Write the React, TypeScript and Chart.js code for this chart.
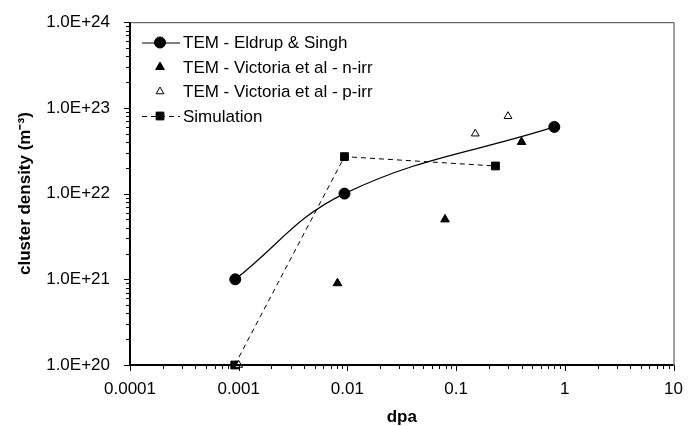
import React, { useEffect, useRef } from "react";
import { Chart, registerables } from "chart.js";
import { drawPoint } from "chart.js/helpers";

Chart.register(...registerables);

// ---- Data ----
const xEldrup = [0.00093, 0.0094, 0.8];
const yEldrup = [1e21, 1e22, 6e22];

const xNirr = [0.0081, 0.079, 0.4];
const yNirr = [9e20, 5e21, 4e22];

const xPirr = [0.001, 0.15, 0.3];
const yPirr = [1e20, 5e22, 8e22];

const xSim = [0.00092, 0.0094, 0.23];
const ySim = [1e20, 2.7e22, 2.1e22];

const xTickValues = [0.0001, 0.001, 0.01, 0.1, 1, 10];
const xTickLabels = ["0.0001", "0.001", "0.01", "0.1", "1", "10"];
const yTickValues = [1e20, 1e21, 1e22, 1e23, 1e24];
const yTickLabels = ["1.0E+20", "1.0E+21", "1.0E+22", "1.0E+23", "1.0E+24"];

const seriesNames = [
  "TEM - Eldrup & Singh",
  "TEM - Victoria et al - n-irr",
  "TEM - Victoria et al - p-irr",
  "Simulation",
];

const FONT = "'Liberation Sans', Arial, Helvetica, sans-serif";

const toPts = (xs: number[], ys: number[]) => xs.map((x, i) => ({ x, y: ys[i] }));

const framePlugin = {
  id: "frameTicksLegend",
  afterDraw(chart: any) {
    const { ctx, chartArea } = chart;
    const { left, right, top, bottom } = chartArea;
    const xs = chart.scales.x;
    const ys = chart.scales.y;
    ctx.save();
    // top/right frame
    ctx.strokeStyle = "#444";
    ctx.lineWidth = 1;
    ctx.beginPath();
    ctx.moveTo(left, top + 0.5);
    ctx.lineTo(right + 0.5, top + 0.5);
    ctx.lineTo(right + 0.5, bottom);
    ctx.stroke();
    // axes
    ctx.strokeStyle = "#000";
    ctx.lineWidth = 2;
    ctx.beginPath();
    ctx.moveTo(left, top);
    ctx.lineTo(left, bottom);
    ctx.lineTo(right, bottom);
    ctx.stroke();
    // ticks
    ctx.lineWidth = 1;
    ctx.beginPath();
    const xe0 = Math.round(Math.log10(xs.min));
    const xe1 = Math.round(Math.log10(xs.max));
    for (let e = xe0; e <= xe1; e++) {
      for (let m = 1; m <= 9; m++) {
        const v = m * Math.pow(10, e);
        if (v > xs.max * 1.0001) break;
        const p = Math.round(xs.getPixelForValue(v)) + 0.5;
        const len = m === 1 ? 6 : 4;
        ctx.moveTo(p, bottom);
        ctx.lineTo(p, bottom + len);
      }
    }
    const ye0 = Math.round(Math.log10(ys.min));
    const ye1 = Math.round(Math.log10(ys.max));
    for (let e = ye0; e <= ye1; e++) {
      for (let m = 1; m <= 9; m++) {
        const v = m * Math.pow(10, e);
        if (v > ys.max * 1.0001) break;
        const p = Math.round(ys.getPixelForValue(v)) + 0.5;
        const len = m === 1 ? 6 : 4;
        ctx.moveTo(left, p);
        ctx.lineTo(left - len, p);
      }
    }
    ctx.stroke();

    // legend
    const lx0 = left + 12;
    const lx1 = left + 50;
    const mx = left + 30;
    const tx = left + 53;
    const rowY = [42.5, 67, 91.5, 116];
    ctx.font = `17px ${FONT}`;
    ctx.textBaseline = "middle";
    ctx.textAlign = "left";
    chart.data.datasets.forEach((ds: any, i: number) => {
      const y = rowY[i];
      if (ds.showLine !== false) {
        ctx.save();
        ctx.strokeStyle = "#000";
        ctx.lineWidth = 1;
        ctx.setLineDash(ds.borderDash || []);
        ctx.beginPath();
        ctx.moveTo(lx0, y + 0.5);
        ctx.lineTo(lx1, y + 0.5);
        ctx.stroke();
        ctx.restore();
      }
      ctx.save();
      ctx.fillStyle = ds.pointBackgroundColor;
      ctx.strokeStyle = ds.pointBorderColor;
      ctx.lineWidth = ds.pointBorderWidth;
      drawPoint(ctx, { pointStyle: ds.pointStyle, radius: ds.pointRadius, rotation: 0, borderWidth: ds.pointBorderWidth }, mx, y);
      ctx.restore();
      ctx.fillStyle = "#000";
      ctx.fillText(ds.label, tx, y + 1);
    });
    ctx.restore();
  },
};

export default function App() {
  const ref = useRef<HTMLCanvasElement | null>(null);
  useEffect(() => {
    if (!ref.current) return;
    const chart = new Chart(ref.current, {
      type: "scatter",
      data: {
        datasets: [
          {
            label: seriesNames[0],
            data: toPts(xEldrup, yEldrup),
            showLine: true,
            borderColor: "#000",
            borderWidth: 1.2,
            tension: 0.4,
            pointStyle: "circle",
            pointRadius: 5.5,
            pointBackgroundColor: "#000",
            pointBorderColor: "#000",
            pointBorderWidth: 1,
            clip: 10,
          } as any,
          {
            label: seriesNames[1],
            data: toPts(xNirr, yNirr),
            showLine: false,
            pointStyle: "triangle",
            pointRadius: 5,
            pointBackgroundColor: "#000",
            pointBorderColor: "#000",
            pointBorderWidth: 1,
            clip: 10,
          } as any,
          {
            label: seriesNames[2],
            data: toPts(xPirr, yPirr),
            showLine: false,
            pointStyle: "triangle",
            pointRadius: 4.5,
            pointBackgroundColor: "#fff",
            pointBorderColor: "#000",
            pointBorderWidth: 1,
            clip: 10,
          } as any,
          {
            label: seriesNames[3],
            data: toPts(xSim, ySim),
            showLine: true,
            borderColor: "#000",
            borderWidth: 1,
            borderDash: [5, 4],
            tension: 0,
            pointStyle: "rect",
            pointRadius: 5.5,
            pointBackgroundColor: "#000",
            pointBorderColor: "#000",
            pointBorderWidth: 1,
            clip: 10,
          } as any,
        ],
      },
      options: {
        animation: false,
        responsive: false,
        layout: { padding: { top: 21, right: 0, left: 0, bottom: 0 } },
        plugins: { legend: { display: false }, tooltip: { enabled: false } },
        scales: {
          x: {
            type: "logarithmic",
            position: "bottom",
            min: 0.0001,
            max: 10,
            grid: { display: false },
            border: { display: false },
            afterBuildTicks: (s: any) => {
              s.ticks = xTickValues.map((v) => ({ value: v }));
            },
            afterFit: (s: any) => {
              s.height = 61;
            },
            ticks: {
              autoSkip: false,
              maxRotation: 0,
              padding: 6,
              color: "#000",
              font: { family: FONT, size: 17 },
              callback: (v: any) => {
                const i = xTickValues.findIndex((t) => Math.abs(t - v) / t < 1e-6);
                return i >= 0 ? xTickLabels[i] : "";
              },
            },
            title: {
              display: true,
              text: "dpa",
              color: "#000",
              font: { family: FONT, size: 17, weight: "bold", lineHeight: 1 },
              padding: { top: 0, bottom: 0 },
            },
          },
          y: {
            type: "logarithmic",
            position: "left",
            min: 1e20,
            max: 1e24,
            grid: { display: false },
            border: { display: false },
            afterBuildTicks: (s: any) => {
              s.ticks = yTickValues.map((v) => ({ value: v }));
            },
            afterFit: (s: any) => {
              s.width = 130;
            },
            ticks: {
              autoSkip: false,
              padding: 12,
              color: "#000",
              font: { family: FONT, size: 17 },
              callback: (v: any) => {
                const i = yTickValues.findIndex((t) => Math.abs(t - v) / t < 1e-6);
                return i >= 0 ? yTickLabels[i] : "";
              },
            },
            title: {
              display: true,
              text: "cluster density (m⁻³)",
              color: "#000",
              font: { family: FONT, size: 17, weight: "bold", lineHeight: 1 },
              padding: { top: 16.5, bottom: 0 },
            },
          },
        },
      },
      plugins: [framePlugin],
    });
    return () => chart.destroy();
  }, []);
  return (
    <div style={{ position: "absolute", left: 0, top: 0, width: 689, height: 426, background: "#fff" }}>
      <canvas ref={ref} width={689} height={426} />
    </div>
  );
}
